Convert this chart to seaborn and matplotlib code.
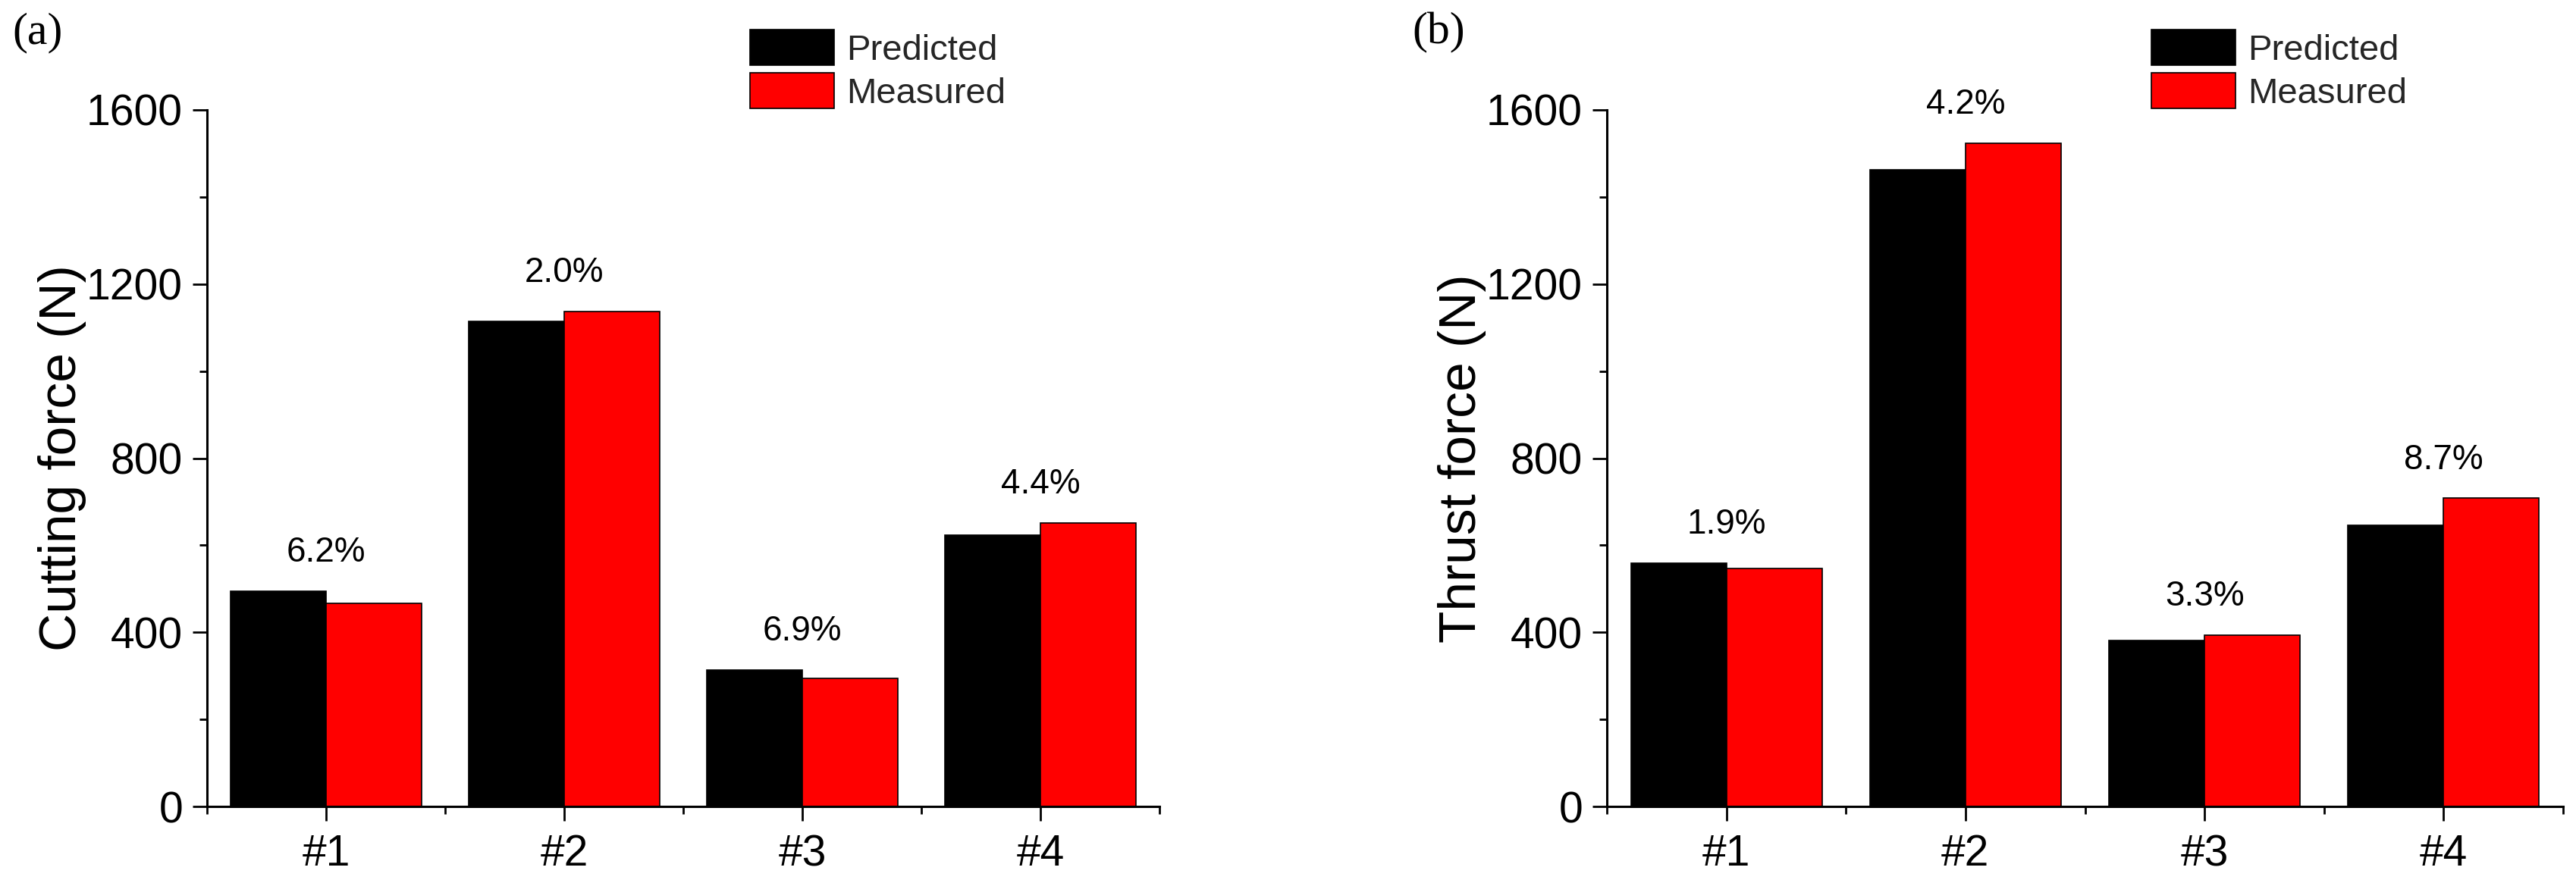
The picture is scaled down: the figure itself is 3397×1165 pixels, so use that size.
import numpy as np
import pandas as pd
import matplotlib
matplotlib.use("Agg")
import matplotlib.pyplot as plt
import seaborn as sns
from matplotlib.ticker import FixedLocator

# ---------------- data ----------------
cases = ["#1", "#2", "#3", "#4"]
series_names = ["Predicted", "Measured"]
series_colors = ["#000000", "#FF0000"]

cutting_predicted = [495, 1114, 314, 624]
cutting_measured = [466, 1137, 294, 652]
cutting_errors = ["6.2%", "2.0%", "6.9%", "4.4%"]

thrust_predicted = [559, 1462, 382, 646]
thrust_measured = [547, 1524, 394, 708]
thrust_errors = ["1.9%", "4.2%", "3.3%", "8.7%"]

panel_labels = ["(a)", "(b)"]
y_labels = ["Cutting force (N)", "Thrust force (N)"]
y_major = [0, 400, 800, 1200, 1600]
y_minor = [200, 600, 1000, 1400]

# ---------------- style ----------------
sns.set_style("ticks")
plt.rcParams["font.family"] = ["Liberation Sans", "DejaVu Sans"]

W, H = 3397, 1165
fig = plt.figure(figsize=(W / 100, H / 100), dpi=100)

panels = [
    dict(pred=cutting_predicted, meas=cutting_measured, err=cutting_errors,
         left=273, right=1529, legx=989),
    dict(pred=thrust_predicted, meas=thrust_measured, err=thrust_errors,
         left=2119, right=3380, legx=2837),
]
top_px, bot_px = 145, 1064

for i, p in enumerate(panels):
    ax = fig.add_axes([p["left"] / W, 1 - bot_px / H,
                       (p["right"] - p["left"]) / W, (bot_px - top_px) / H])
    df = pd.DataFrame({
        "case": cases * 2,
        "series": [series_names[0]] * 4 + [series_names[1]] * 4,
        "value": list(p["pred"]) + list(p["meas"]),
    })
    sns.barplot(data=df, x="case", y="value", hue="series",
                hue_order=series_names, order=cases,
                palette=series_colors, saturation=1, width=0.8,
                edgecolor="black", linewidth=1.2, ax=ax)

    ax.set_xlim(-0.5, 3.5)
    ax.set_ylim(0, 1600)
    sns.despine(ax=ax)
    for s in ["left", "bottom"]:
        ax.spines[s].set_linewidth(2.2)
        ax.spines[s].set_color("black")

    ax.yaxis.set_major_locator(FixedLocator(y_major))
    ax.yaxis.set_minor_locator(FixedLocator(y_minor))
    ax.xaxis.set_minor_locator(FixedLocator([-0.5, 0.5, 1.5, 2.5, 3.5]))
    ax.tick_params(axis="both", which="major", direction="out", length=14,
                   width=2.0, color="black", labelsize=41, labelcolor="black")
    ax.tick_params(axis="y", which="major", pad=9)
    ax.tick_params(axis="x", which="major", pad=12)
    ax.tick_params(axis="both", which="minor", direction="out", length=7.5,
                   width=2.0, color="black")

    ax.set_xlabel("")
    ax.set_ylabel(y_labels[i], fontsize=50, color="black")
    width_px = p["right"] - p["left"]
    ax.yaxis.set_label_coords((114 - 273) / width_px, 0.5)

    # error annotations above each group
    for j, txt in enumerate(p["err"]):
        top = max(p["pred"][j], p["meas"][j])
        ax.text(j, top + 88, txt, ha="center", va="center",
                fontsize=33, color="black")

    # legend
    old = ax.get_legend()
    handles = old.legend_handles
    old.remove()
    fig.legend(handles, series_names, loc="upper left",
               bbox_to_anchor=(p["legx"] / W, 1 - 39 / H),
               bbox_transform=fig.transFigure, frameon=False,
               fontsize=34, handlelength=2.36, handleheight=1.17,
               labelspacing=0.15, handletextpad=0.34,
               borderpad=0, borderaxespad=0)

    fig.text((p["left"] - 257) / W, 1 - 16 / H, panel_labels[i],
             ha="left", va="top", fontsize=43,
             family=["Liberation Serif", "DejaVu Serif"], color="black")

fig.savefig("out.png", dpi=100, facecolor="white")
